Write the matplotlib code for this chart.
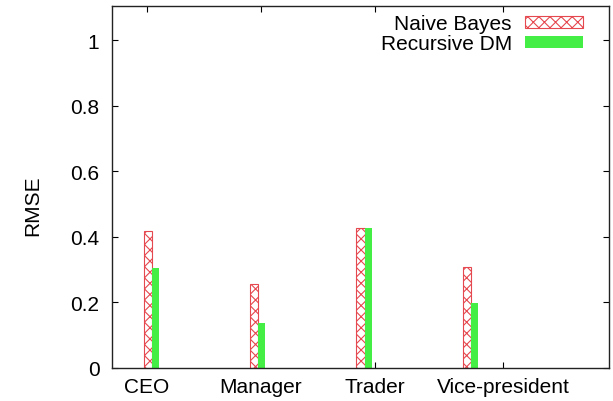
import matplotlib
matplotlib.use("Agg")
import matplotlib.pyplot as plt
from matplotlib.ticker import FormatStrFormatter
import numpy as np

plt.rcParams['font.family'] = ['Liberation Sans', 'DejaVu Sans']
plt.rcParams['hatch.linewidth'] = 0.8

categories = ["CEO", "Manager", "Trader", "Vice-president"]
naive_bayes = [0.418, 0.255, 0.427, 0.308]
recursive_dm = [0.303, 0.137, 0.426, 0.197]
y_ticks = [0, 0.2, 0.4, 0.6, 0.8, 1.0]

# category label positions (in bar-group units)
label_pos = [-0.047, 1.025, 2.098, 3.302]

fig = plt.figure(figsize=(6.13, 4.02), dpi=100)
ax = fig.add_axes([0.1827, 0.0833, 0.8108, 0.9000])

x = np.arange(len(categories))
w_nb, w_dm = 0.078, 0.066
ax.bar(x - w_nb / 2, naive_bayes, width=w_nb, facecolor='white',
       edgecolor='#e5484f', hatch='xxx', linewidth=0.8, label='Naive Bayes')
ax.bar(x + w_dm / 2, recursive_dm, width=w_dm, color='#44ee44',
       linewidth=0, label='Recursive DM')

ax.set_xlim(-0.376, 4.30)
ax.set_ylim(0, 1.106)
ax.set_axisbelow(True)

ax.set_xticks(label_pos)
ax.set_xticklabels(categories)
ax.set_yticks(y_ticks)
ax.yaxis.set_major_formatter(FormatStrFormatter('%g'))
ax.tick_params(axis='both', direction='in', length=4, width=0.8,
               labelsize=15, top=True, right=True)
ax.tick_params(axis='y', pad=9)
ax.tick_params(axis='x', pad=7)

for s in ax.spines.values():
    s.set_linewidth(1.0)
    s.set_color('#222222')

ax.set_ylabel('RMSE', fontsize=15)
ax.yaxis.set_label_coords(-0.14, 0.45)

ax.legend(loc='upper right', bbox_to_anchor=(0.948, 0.976), frameon=False,
          markerfirst=False, fontsize=15, borderaxespad=0, borderpad=0,
          handlelength=2.8, handleheight=0.48, handletextpad=0.62,
          labelspacing=0.05)

fig.savefig('out.png', dpi=100)
